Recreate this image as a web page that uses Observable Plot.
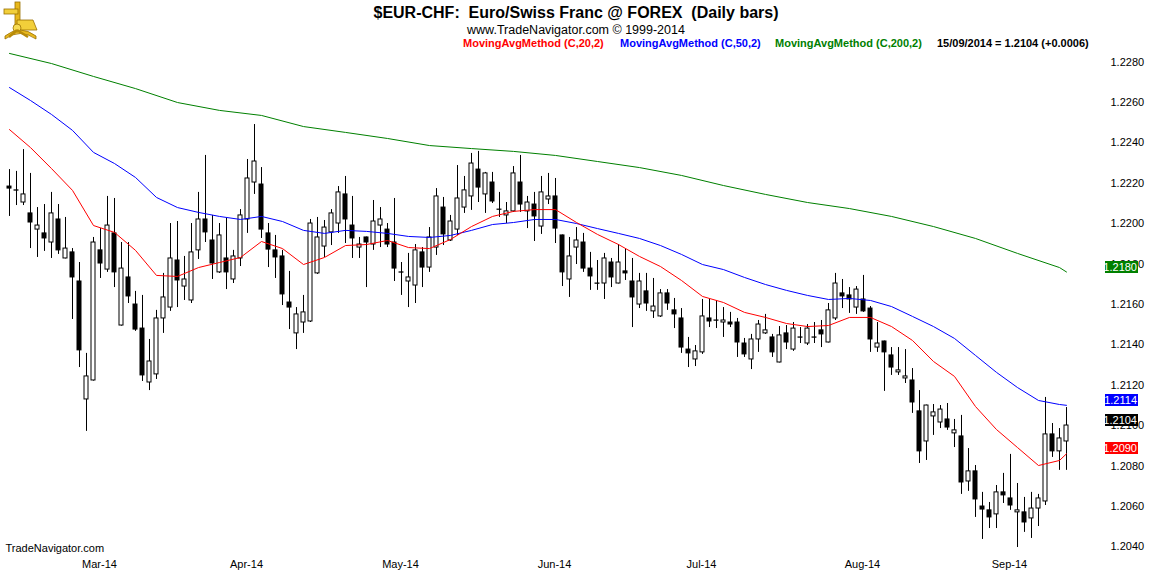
<!DOCTYPE html>
<html>
<head>
<meta charset="utf-8">
<script src="https://cdn.jsdelivr.net/npm/d3@7"></script>
<script src="https://cdn.jsdelivr.net/npm/@observablehq/plot@0.6"></script>
<style>
html, body { margin: 0; padding: 0; background: #ffffff; }
#wrap { width: 1152px; height: 576px; position: relative; overflow: hidden; font-family: "Liberation Sans", Arial, sans-serif; }
#header { position: relative; width: 1152px; height: 48px; }
.t { position: absolute; white-space: pre; line-height: 1; }
#chart svg { display: block; }
</style>
</head>
<body>
<div id="wrap">
  <div id="header">
    <svg width="42" height="42" style="position:absolute;left:0;top:0" aria-label="logo">
      <rect x="15" y="2" width="5" height="26" fill="#e8b81c" stroke="#9a7000" stroke-width="0.8"/>
      <rect x="4" y="9" width="14" height="5" fill="#f2cf3a" stroke="#9a7000" stroke-width="0.8"/>
      <path d="M17 20 L33 20 L37 30 L17 30 Z" fill="#f2cf3a" stroke="#9a7000" stroke-width="0.8"/>
      <path d="M5 36 Q20 24 36 36 L36 39 Q20 28 5 39 Z" fill="#e8b81c" stroke="#9a7000" stroke-width="0.8"/>
      <circle cx="17" cy="28" r="4" fill="#f7dc55" stroke="#9a7000" stroke-width="0.8"/>
      <path d="M17 30 L9 37 M17 30 L28 37" stroke="#b88a08" stroke-width="2.5"/>
    </svg>
    <div class="t" id="title" style="left:0;width:1152px;text-align:center;top:5px;font-size:16px;font-weight:bold;"></div>
    <div class="t" id="subtitle" style="left:0;width:1152px;text-align:center;top:24px;font-size:12.5px;"></div>
    <div class="t" id="leg20" style="left:463px;top:38px;font-size:11px;font-weight:bold;color:#ff0000;"></div>
    <div class="t" id="leg50" style="left:620px;top:38px;font-size:11px;font-weight:bold;color:#0000ff;"></div>
    <div class="t" id="leg200" style="left:775px;top:38px;font-size:11px;font-weight:bold;color:#008000;"></div>
    <div class="t" id="legLast" style="left:937px;top:38px;font-size:11px;font-weight:bold;color:#000000;"></div>
  </div>
  <div id="chart"></div>
</div>
<script>
// ---------- texts ----------
const titleText = "$EUR-CHF:  Euro/Swiss Franc @ FOREX  (Daily bars)";
const subtitleText = "www.TradeNavigator.com \u00A9 1999-2014";
const maLabels = ["MovingAvgMethod (C,20,2)", "MovingAvgMethod (C,50,2)", "MovingAvgMethod (C,200,2)"];
const footerText = "TradeNavigator.com";

// ---------- trading days (daily bars) ----------
const firstDay = "2014-02-14";
const lastDay = "2014-09-15";

// ---------- OHLC values ----------
const openP = [
1.22223,1.22204,1.22144,1.22090,1.22010,1.21991,1.21946,1.22060,1.21867,1.21897,
1.21753,1.21169,1.21263,1.21907,1.21812,1.21991,1.21535,1.21773,1.21639,1.21520,
1.21253,1.21293,1.21570,1.21624,1.21857,1.21728,1.21659,1.21907,1.22060,1.21956,
1.21798,1.21867,1.21763,1.21867,1.22060,1.22243,1.22233,1.21991,1.21907,1.21877,
1.21649,1.21496,1.21550,1.21555,1.21793,1.21926,1.21996,1.22040,1.22184,1.22030,
1.21921,1.21971,1.21936,1.22030,1.22010,1.21946,1.21798,1.21753,1.21733,1.21897,
1.21822,1.21921,1.22119,1.21956,1.22010,1.22119,1.22174,1.22307,1.22184,1.22243,
1.22109,1.22080,1.22100,1.22243,1.22100,1.22134,1.22025,1.22159,1.22174,1.21981,
1.21763,1.21921,1.21946,1.21817,1.21743,1.21743,1.21847,1.21743,1.21803,1.21753,
1.21639,1.21704,1.21605,1.21580,1.21694,1.21610,1.21570,1.21416,1.21367,1.21402,
1.21570,1.21560,1.21550,1.21550,1.21550,1.21446,1.21367,1.21466,1.21496,1.21476,
1.21352,1.21496,1.21416,1.21476,1.21446,1.21476,1.21511,1.21451,1.21570,1.21694,
1.21684,1.21624,1.21664,1.21619,1.21426,1.21456,1.21387,1.21303,1.21273,1.21263,
1.21110,1.20961,1.21085,1.21055,1.21070,1.21001,1.20986,1.20763,1.20813,1.20639,
1.20620,1.20600,1.20709,1.20679,1.20610,1.20610,1.20580,1.20629,1.20664,1.20996,
1.20912,1.20961];
const highP = [
1.22307,1.22298,1.22406,1.22288,1.22119,1.22134,1.22194,1.22134,1.22070,1.21916,
1.21847,1.21397,1.21971,1.22015,1.22174,1.22164,1.21946,1.21946,1.21704,1.21684,
1.21466,1.21610,1.21793,1.22040,1.22050,1.21877,1.22040,1.22194,1.22377,1.22080,
1.22040,1.22065,1.21907,1.22109,1.22357,1.22530,1.22317,1.22040,1.21981,1.21907,
1.21803,1.21624,1.21684,1.22060,1.22070,1.22055,1.22109,1.22223,1.22273,1.22174,
1.21971,1.21973,1.22154,1.22119,1.22040,1.22164,1.21847,1.21892,1.21936,1.21921,
1.22020,1.22213,1.22169,1.22080,1.22327,1.22273,1.22387,1.22397,1.22293,1.22293,
1.22194,1.22144,1.22322,1.22377,1.22174,1.22194,1.22273,1.22288,1.22263,1.21983,
1.21971,1.22020,1.21991,1.21897,1.21857,1.21892,1.21867,1.21936,1.21916,1.21867,
1.21793,1.21793,1.21768,1.21713,1.21713,1.21669,1.21619,1.21476,1.21436,1.21664,
1.21664,1.21659,1.21624,1.21600,1.21570,1.21471,1.21491,1.21560,1.21590,1.21491,
1.21530,1.21535,1.21550,1.21525,1.21540,1.21550,1.21560,1.21644,1.21793,1.21763,
1.21723,1.21728,1.21783,1.21629,1.21550,1.21458,1.21426,1.21426,1.21416,1.21322,
1.21213,1.21141,1.21144,1.21139,1.21149,1.21070,1.21090,1.20926,1.20842,1.20709,
1.20659,1.20743,1.20803,1.20897,1.20753,1.20684,1.20709,1.20699,1.21179,1.21050,
1.21025,1.21129];
const lowP = [
1.22075,1.22129,1.22129,1.21916,1.21872,1.21902,1.21867,1.21887,1.21865,1.21565,
1.21327,1.21011,1.21260,1.21768,1.21798,1.21723,1.21532,1.21644,1.21506,1.21258,
1.21213,1.21268,1.21496,1.21605,1.21624,1.21659,1.21644,1.21862,1.21946,1.21763,
1.21793,1.21713,1.21743,1.21827,1.21991,1.22184,1.21966,1.21822,1.21768,1.21634,
1.21515,1.21416,1.21496,1.21550,1.21788,1.21872,1.21931,1.21991,1.21941,1.21867,
1.21867,1.21723,1.21907,1.21921,1.21921,1.21753,1.21684,1.21624,1.21644,1.21723,
1.21798,1.21882,1.21931,1.21951,1.21981,1.22090,1.22105,1.22144,1.22090,1.22139,
1.22070,1.22040,1.22095,1.22095,1.22015,1.21951,1.21986,1.22134,1.21941,1.21728,
1.21674,1.21837,1.21798,1.21709,1.21709,1.21664,1.21723,1.21741,1.21758,1.21525,
1.21619,1.21605,1.21570,1.21575,1.21610,1.21520,1.21397,1.21327,1.21332,1.21392,
1.21525,1.21520,1.21476,1.21525,1.21377,1.21377,1.21317,1.21402,1.21491,1.21377,
1.21350,1.21416,1.21407,1.21446,1.21436,1.21446,1.21426,1.21449,1.21560,1.21619,
1.21595,1.21590,1.21600,1.21402,1.21402,1.21209,1.21288,1.21288,1.21248,1.21100,
1.20852,1.20867,1.20991,1.21025,1.21016,1.20931,1.20699,1.20714,1.20585,1.20476,
1.20530,1.20530,1.20654,1.20620,1.20436,1.20511,1.20481,1.20540,1.20644,1.20882,
1.20818,1.20818];
const closeP = [
1.22213,1.22203,1.22184,1.22045,1.22030,1.21966,1.22090,1.21907,1.21916,1.21773,
1.21412,1.21283,1.21946,1.21842,1.22030,1.21798,1.21817,1.21679,1.21515,1.21288,
1.21357,1.21570,1.21674,1.21867,1.21758,1.21763,1.21897,1.22060,1.21996,1.21842,
1.21981,1.21798,1.21877,1.22080,1.22263,1.22347,1.22010,1.21911,1.21872,1.21689,
1.21624,1.21590,1.21600,1.22040,1.21971,1.22020,1.22090,1.22194,1.22060,1.21966,
1.21936,1.21946,1.22050,1.22060,1.21936,1.21817,1.21797,1.21773,1.21907,1.21822,
1.21971,1.22174,1.21986,1.22050,1.22164,1.22204,1.22337,1.22218,1.22288,1.22149,
1.22108,1.22100,1.22288,1.22134,1.22144,1.22075,1.22194,1.22174,1.22015,1.21798,
1.21877,1.21956,1.21817,1.21778,1.21742,1.21867,1.21773,1.21847,1.21793,1.21674,
1.21753,1.21644,1.21629,1.21694,1.21644,1.21590,1.21426,1.21397,1.21407,1.21580,
1.21555,1.21559,1.21560,1.21540,1.21451,1.21392,1.21466,1.21540,1.21511,1.21402,
1.21486,1.21451,1.21520,1.21475,1.21520,1.21475,1.21491,1.21610,1.21743,1.21679,
1.21664,1.21713,1.21605,1.21466,1.21446,1.21402,1.21327,1.21313,1.21283,1.21154,
1.20912,1.21139,1.21105,1.21119,1.21030,1.21016,1.20758,1.20813,1.20674,1.20624,
1.20585,1.20709,1.20694,1.20644,1.20620,1.20560,1.20629,1.20679,1.20996,1.20912,
1.20976,1.21040];

const ma20Bars = [0,3,6,9,12,15,18,21,24,27,30,33,36,39,42,45,48,51,54,57,60,63,66,69,72,75,78,81,84,87,90,93,96,99,102,105,108,111,114,117,120,123,126,129,132,135,138,141,144,147,150,151];
const ma20Vals = [1.22505,1.22416,1.22312,1.22204,1.22030,1.21996,1.21907,1.21783,1.21778,1.21822,1.21847,1.21872,1.21951,1.21916,1.21837,1.21872,1.21931,1.21936,1.21956,1.21921,1.21916,1.21961,1.22025,1.22075,1.22100,1.22109,1.22109,1.22045,1.21986,1.21936,1.21877,1.21827,1.21758,1.21679,1.21649,1.21600,1.21575,1.21545,1.21530,1.21535,1.21575,1.21575,1.21530,1.21461,1.21357,1.21283,1.21134,1.21020,1.20931,1.20842,1.20867,1.20900];
const ma50Bars = ma20Bars;
const ma50Vals = [1.22713,1.22649,1.22580,1.22501,1.22392,1.22337,1.22268,1.22169,1.22119,1.22095,1.22075,1.22060,1.22075,1.22050,1.22006,1.21991,1.22006,1.22001,1.21991,1.21976,1.21971,1.21981,1.22006,1.22035,1.22045,1.22060,1.22060,1.22040,1.22015,1.21991,1.21966,1.21931,1.21887,1.21837,1.21812,1.21773,1.21738,1.21709,1.21684,1.21664,1.21669,1.21659,1.21629,1.21580,1.21530,1.21471,1.21387,1.21303,1.21228,1.21164,1.21144,1.21140];
const ma200Bars = [0,6,12,18,24,30,36,42,48,54,60,66,72,78,84,90,96,102,108,114,120,126,132,138,144,150,151];
const ma200Vals = [1.22882,1.22832,1.22768,1.22708,1.22639,1.22600,1.22575,1.22520,1.22491,1.22461,1.22426,1.22411,1.22397,1.22377,1.22347,1.22317,1.22278,1.22228,1.22184,1.22144,1.22114,1.22075,1.22025,1.21966,1.21892,1.21822,1.21800];

// ---------- axis ticks ----------
const priceTicks = [1.2040,1.2060,1.2080,1.2100,1.2120,1.2140,1.2160,1.2180,1.2200,1.2220,1.2240,1.2260,1.2280];

// ---------- colours ----------
const colMA20 = "#ff0000", colMA50 = "#0000ff", colMA200 = "#008000";

// ---------- build data ----------
const parse = d3.utcParse("%Y-%m-%d");
const dates = d3.utcDays(parse(firstDay), d3.utcDay.offset(parse(lastDay), 1))
  .filter(d => d.getUTCDay() !== 0 && d.getUTCDay() !== 6);
const n = closeP.length;
const bars = d3.range(n).map(i => ({i, date: dates[i], open: openP[i], high: highP[i], low: lowP[i], close: closeP[i]}));
const up = bars.filter(d => d.close >= d.open);
const down = bars.filter(d => d.close < d.open);
const ma20 = ma20Bars.map((b, k) => ({i: b, v: ma20Vals[k]}));
const ma50 = ma50Bars.map((b, k) => ({i: b, v: ma50Vals[k]}));
const ma200 = ma200Bars.map((b, k) => ({i: b, v: ma200Vals[k]}));
const monthStarts = d3.range(1, n).filter(i => dates[i] && dates[i].getUTCMonth() !== dates[i - 1].getUTCMonth());
const fmtMonth = d3.utcFormat("%b-%y");
const fmtDay = d3.utcFormat("%d/%m/%Y");
const last = bars[n - 1], prev = bars[n - 2];
const chg = last.close - prev.close;

// header texts
document.getElementById("title").textContent = titleText;
document.getElementById("subtitle").textContent = subtitleText;
document.getElementById("leg20").textContent = maLabels[0];
document.getElementById("leg50").textContent = maLabels[1];
document.getElementById("leg200").textContent = maLabels[2];
document.getElementById("legLast").textContent =
  `${fmtDay(last.date)} = ${last.close.toFixed(4)} (${chg >= 0 ? "+" : ""}${chg.toFixed(4)})`;

// value boxes at the right edge
const boxes = [
  {value: ma200Vals[ma200Vals.length - 1], color: colMA200},
  {value: ma50Vals[ma50Vals.length - 1], color: colMA50},
  {value: last.close, color: "#000000"},
  {value: ma20Vals[ma20Vals.length - 1], color: colMA20}
];
function valueBoxes(index, scales, values, dims) {
  const g = d3.create("svg:g");
  const xr = dims.width - dims.marginRight;
  for (const b of boxes) {
    const cy = Math.round(scales.y(b.value)) - 5;
    g.append("rect").attr("x", xr - 3).attr("y", cy - 6).attr("width", 33).attr("height", 12).attr("fill", b.color);
    g.append("text").attr("x", xr + 29).attr("y", cy).attr("dy", "0.35em")
      .attr("text-anchor", "end").attr("fill", "white").attr("font-size", 11)
      .text(b.value.toFixed(4));
  }
  return g.node();
}

const chart = Plot.plot({
  width: 1152,
  height: 528,
  marginTop: 0, marginBottom: 0, marginLeft: 0, marginRight: 44,
  style: {fontFamily: "'Liberation Sans', Arial, sans-serif", fontSize: "11px", color: "black", background: "white", overflow: "visible"},
  x: {type: "linear", domain: [0, n - 1], range: [9, 1066], axis: null},
  y: {type: "linear", domain: [1.2030, 1.2290], range: [526.5, 1.3], axis: null},
  marks: [
    Plot.ruleX(bars, {x: "i", y1: "low", y2: "high", stroke: "black", strokeWidth: 1}),
    Plot.rect(down, {x1: d => d.i - 2 / 7, x2: d => d.i + 2 / 7, y1: "open", y2: "close", fill: "black", stroke: "black", strokeWidth: 1}),
    Plot.rect(up, {x1: d => d.i - 2 / 7, x2: d => d.i + 2 / 7, y1: "open", y2: "close", fill: "white", stroke: "black", strokeWidth: 1}),
    Plot.line(ma200, {x: "i", y: "v", stroke: colMA200, strokeWidth: 1}),
    Plot.line(ma50, {x: "i", y: "v", stroke: colMA50, strokeWidth: 1}),
    Plot.line(ma20, {x: "i", y: "v", stroke: colMA20, strokeWidth: 1}),
    Plot.axisY({anchor: "right", label: null, ticks: priceTicks, tickFormat: d3.format(".4f"), tickSize: 0, tickPadding: 2, dy: -8, fill: "black"}),
    Plot.axisX({label: null, ticks: monthStarts, tickFormat: i => fmtMonth(dates[i]), tickSize: 0, tickPadding: 0, dy: -16, dx: 13, fill: "black"}),
    Plot.text([footerText], {frameAnchor: "bottom-left", dx: 5, dy: -25, text: d => d, textAnchor: "start", fill: "black"}),
    valueBoxes
  ]
});
document.getElementById("chart").appendChild(chart);
</script>
</body>
</html>
